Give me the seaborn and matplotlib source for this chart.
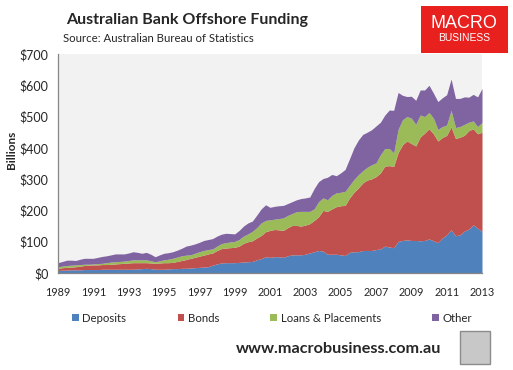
import numpy as np
import seaborn as sns
import matplotlib.pyplot as plt
from matplotlib.patches import Patch, Rectangle

# quarterly, 1989Q1 .. 2013Q1 ($ billions)
start_year = 1989
deposits = [8, 9, 9, 10, 10, 10, 11, 11, 11, 11, 12, 12, 12, 12, 12, 12,
            12, 12, 13, 14, 15, 14, 12, 12, 12, 13, 14, 14, 15, 15, 16, 17,
            18, 19, 20, 25, 29, 32, 33, 33, 33, 34, 35, 36, 37, 42, 46, 52,
            50, 52, 52, 50, 55, 58, 58, 58, 60, 64, 68, 72, 70, 60, 60, 60,
            58, 56, 66, 68, 68, 72, 72, 72, 75, 77, 86, 83, 81, 101, 104, 106,
            104, 104, 103, 104, 109, 103, 97, 112, 122, 138, 119, 122, 134, 140, 154, 143,
            133]
bonds = [7, 8, 9, 9, 10, 12, 13, 14, 15, 15, 15, 15, 16, 17, 18, 19,
         20, 21, 20, 19, 18, 18, 19, 20, 21, 20, 20, 23, 25, 28, 31, 33,
         36, 38, 41, 39, 43, 46, 47, 48, 49, 52, 60, 64, 66, 70, 74, 80,
         86, 87, 86, 86, 90, 94, 94, 92, 93, 94, 100, 108, 130, 137, 145, 152,
         157, 160, 174, 190, 204, 216, 225, 229, 233, 243, 256, 260, 260, 284, 306, 316,
         310, 302, 332, 343, 352, 342, 325, 321, 318, 329, 311, 312, 306, 315, 307, 302,
         317]
loans = [5, 5, 6, 6, 6, 5, 4, 3, 3, 4, 4, 6, 7, 7, 7, 7,
         8, 9, 9, 9, 9, 7, 5, 7, 9, 11, 13, 14, 15, 14, 11, 13,
         14, 15, 14, 13, 14, 16, 17, 18, 19, 21, 23, 25, 30, 33, 40, 36,
         34, 33, 36, 40, 39, 38, 44, 47, 44, 39, 37, 48, 40, 37, 43, 44,
         43, 45, 40, 41, 42, 39, 41, 45, 44, 58, 56, 55, 43, 74, 80, 78,
         81, 69, 70, 53, 52, 50, 37, 35, 33, 53, 35, 34, 35, 27, 25, 23,
         31]
other = [13, 15, 17, 16, 14, 17, 19, 19, 18, 20, 22, 22, 23, 25, 24, 23,
         24, 26, 24, 21, 24, 21, 16, 19, 21, 21, 21, 22, 24, 29, 31, 30,
         30, 32, 32, 33, 32, 30, 30, 27, 24, 29, 32, 35, 33, 40, 45, 50,
         40, 41, 41, 40, 38, 38, 38, 41, 43, 46, 65, 64, 62, 72, 67, 55,
         62, 70, 85, 101, 111, 116, 112, 112, 118, 104, 107, 123, 136, 118, 78, 64,
         70, 77, 80, 85, 87, 80, 89, 92, 97, 100, 93, 90, 88, 80, 85, 95,
         109]
series_names = ["Deposits", "Bonds", "Loans & Placements", "Other"]
colors = ["#4F81BD", "#C0504D", "#9BBB59", "#8064A2"]
years = start_year + 0.25 * np.arange(len(deposits))
x_ticks = list(range(1989, 2014, 2))
y_ticks = list(range(0, 701, 100))

sns.set_theme(style="white")
plt.rcParams["font.family"] = ["Lato", "DejaVu Sans"]

fig = plt.figure(figsize=(5.13, 3.70), dpi=100)
ax = fig.add_axes([58 / 513, 1 - 273 / 370, 424 / 513, 219 / 370])
ax.set_facecolor("#F2F2F2")

ax.stackplot(years, deposits, bonds, loans, other, colors=colors, linewidth=0)

ax.set_xlim(1989, 2013)
ax.set_ylim(0, 700)
ax.set_xticks(x_ticks)
ax.set_yticks(y_ticks)
ax.set_yticklabels(["$%d" % v for v in y_ticks], fontsize=9)
ax.set_xticklabels([str(v) for v in x_ticks], fontsize=7.8)
ax.tick_params(axis="both", direction="out", length=4, width=0.8, color="#868686", pad=3)
ax.tick_params(axis="x", pad=6)
sns.despine(ax=ax)
for side in ("left", "bottom"):
    ax.spines[side].set_color("#868686")
    ax.spines[side].set_linewidth(0.9)

fig.text(12 / 513, 1 - 150 / 370, "Billions", rotation=90, fontsize=8.5,
         fontweight="bold", ha="center", va="center")

# titles
fig.text(66 / 513, 1 - 20 / 370, "Australian Bank Offshore Funding", fontsize=11.5,
         fontweight="bold", ha="left", va="center")
fig.text(63 / 513, 1 - 39 / 370, "Source: Australian Bureau of Statistics", fontsize=8.2,
         ha="left", va="center")

# logo box
fig.patches.append(Rectangle((421 / 513, 1 - 53 / 370), 87 / 513, 47 / 370,
                             transform=fig.transFigure, facecolor="#E8211F",
                             edgecolor="none"))
fig.text(464 / 513, 1 - 23 / 370, "MACRO", fontsize=13, color="white",
         ha="center", va="center", family=["Liberation Sans", "DejaVu Sans"])
fig.text(464 / 513, 1 - 38 / 370, "BUSINESS", fontsize=7.5, color="white",
         ha="center", va="center", family=["Liberation Sans", "DejaVu Sans"])

# legend
handles = [Patch(facecolor=c, edgecolor="none") for c in colors]
fig.legend(handles, series_names, loc="center", ncol=4, frameon=False,
           bbox_to_anchor=(272 / 513, 1 - 318 / 370), fontsize=8.2,
           handlelength=0.6, handleheight=0.6, handletextpad=0.3,
           columnspacing=4.5)

fig.text(339 / 513, 1 - 349 / 370, "www.macrobusiness.com.au", fontsize=11.7,
         fontweight="bold", ha="center", va="center")
fig.patches.append(Rectangle((460 / 513, 1 - 364 / 370), 30 / 513, 33 / 370,
                             transform=fig.transFigure, facecolor="#C8C8C8",
                             edgecolor="#8C8C8C", linewidth=1))

fig.savefig("out.png", dpi=100)
